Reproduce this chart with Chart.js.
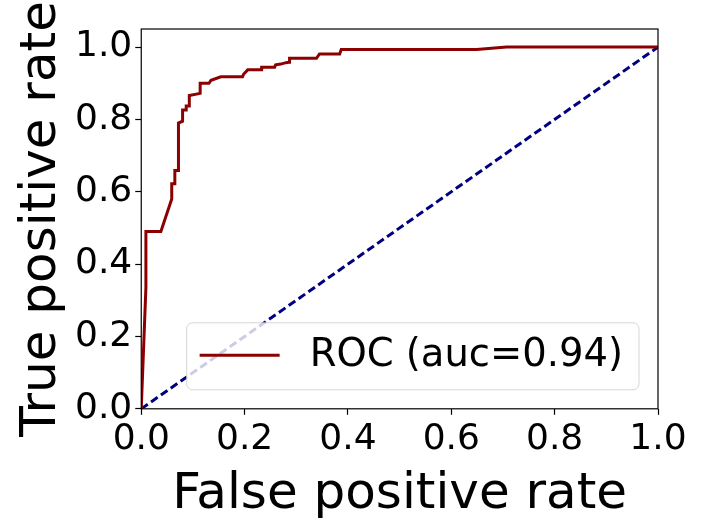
<!DOCTYPE html>
<html>
<head>
<meta charset="utf-8">
<script src="https://cdn.jsdelivr.net/npm/chart.js@4.4.1/dist/chart.umd.min.js"></script>
<style>
  html, body { margin: 0; padding: 0; background: #fff; }
  #wrap { width: 706px; height: 526px; }
</style>
</head>
<body>
<div id="wrap"><canvas id="roc"></canvas></div>
<script>
// ROC curve points
const fpr = [0, 0.009, 0.009, 0.038, 0.059, 0.059, 0.065, 0.065, 0.072, 0.072,
  0.08, 0.08, 0.087, 0.087, 0.093, 0.093, 0.114, 0.114, 0.131, 0.135,
  0.154, 0.196, 0.198, 0.206, 0.232, 0.233, 0.258, 0.26, 0.27, 0.28,
  0.286, 0.287, 0.339, 0.345, 0.384, 0.387, 0.649, 0.707, 1.0];
const tpr = [0, 0.335, 0.49, 0.49, 0.58, 0.622, 0.622, 0.659, 0.659, 0.79,
  0.795, 0.826, 0.826, 0.837, 0.837, 0.866, 0.872, 0.90, 0.90, 0.908,
  0.918, 0.918, 0.925, 0.937, 0.937, 0.944, 0.944, 0.951, 0.953, 0.957,
  0.958, 0.969, 0.969, 0.981, 0.981, 0.993, 0.993, 1.0, 1.0];
const chance = [0, 1];
const rocLabel = 'ROC (auc=0.94)';
const xTicks = [0, 0.2, 0.4, 0.6, 0.8, 1.0];
const yTicks = [0, 0.2, 0.4, 0.6, 0.8, 1.0];

const font = 'DejaVu Sans';

const rocPoints = fpr.map((x, i) => ({ x: x, y: tpr[i] }));
const chancePoints = chance.map(v => ({ x: v, y: v }));

// matplotlib style box around the axes plus legend inside the plot
const framePlugin = {
  id: 'frame',
  afterDraw(chart) {
    const a = chart.chartArea;
    const c = chart.ctx;
    c.save();
    c.strokeStyle = '#000';
    c.lineWidth = 1.2;
    c.strokeRect(a.left, a.top, a.right - a.left, a.bottom - a.top);

    // legend
    c.font = '38.5px "' + font + '"';
    const tw = c.measureText(rocLabel).width;
    const w = 13 + 80 + 30 + tw + 16, h = 67;
    const x0 = a.right - 19 - w, y0 = a.bottom - 19 - h;
    c.beginPath();
    c.roundRect(x0, y0, w, h, 6);
    c.fillStyle = 'rgba(255,255,255,0.8)';
    c.fill();
    c.strokeStyle = 'rgba(204,204,204,0.8)';
    c.lineWidth = 1;
    c.stroke();
    const ly = y0 + h / 2 - 1;
    c.beginPath();
    c.moveTo(x0 + 13, ly);
    c.lineTo(x0 + 93, ly);
    c.strokeStyle = '#8b0000';
    c.lineWidth = 3;
    c.stroke();
    c.fillStyle = '#000';
    c.textBaseline = 'middle';
    c.fillText(rocLabel, x0 + 123, ly + 1);
    c.restore();
  }
};

const setTicks = list => scale => { scale.ticks = list.map(v => ({ value: v })); };

new Chart(document.getElementById('roc'), {
  type: 'scatter',
  data: {
    datasets: [{
      label: rocLabel,
      data: rocPoints,
      showLine: true,
      borderColor: '#8b0000',
      borderWidth: 3,
      pointRadius: 0,
      tension: 0
    }, {
      label: 'chance',
      data: chancePoints,
      showLine: true,
      borderColor: '#000080',
      borderWidth: 3,
      borderDash: [8, 4],
      pointRadius: 0
    }]
  },
  options: {
    responsive: true,
    maintainAspectRatio: false,
    animation: false,
    layout: { padding: { left: 12, right: 48, top: 29, bottom: 1 } },
    plugins: {
      legend: { display: false },
      tooltip: { enabled: false }
    },
    scales: {
      x: {
        type: 'linear',
        min: 0,
        max: 1,
        afterBuildTicks: setTicks(xTicks),
        grid: { drawOnChartArea: false, color: '#000', tickLength: 6, tickWidth: 1.2 },
        border: { display: false },
        ticks: {
          color: '#000',
          maxRotation: 0,
          padding: 3,
          font: { family: font, size: 36 },
          callback: v => v.toFixed(1)
        },
        title: {
          display: true,
          text: 'False positive rate',
          color: '#000',
          font: { family: font, size: 50 },
          padding: { top: 1, bottom: 0 }
        }
      },
      y: {
        type: 'linear',
        min: 0,
        max: 1.05,
        afterBuildTicks: setTicks(yTicks),
        grid: { drawOnChartArea: false, color: '#000', tickLength: 6, tickWidth: 1.2 },
        border: { display: false },
        ticks: {
          color: '#000',
          padding: 3,
          font: { family: font, size: 36 },
          callback: v => v.toFixed(1)
        },
        title: {
          display: true,
          text: 'True positive rate',
          color: '#000',
          font: { family: font, size: 50 },
          padding: { top: 0, bottom: 0 }
        }
      }
    }
  },
  plugins: [framePlugin]
});
</script>
</body>
</html>
